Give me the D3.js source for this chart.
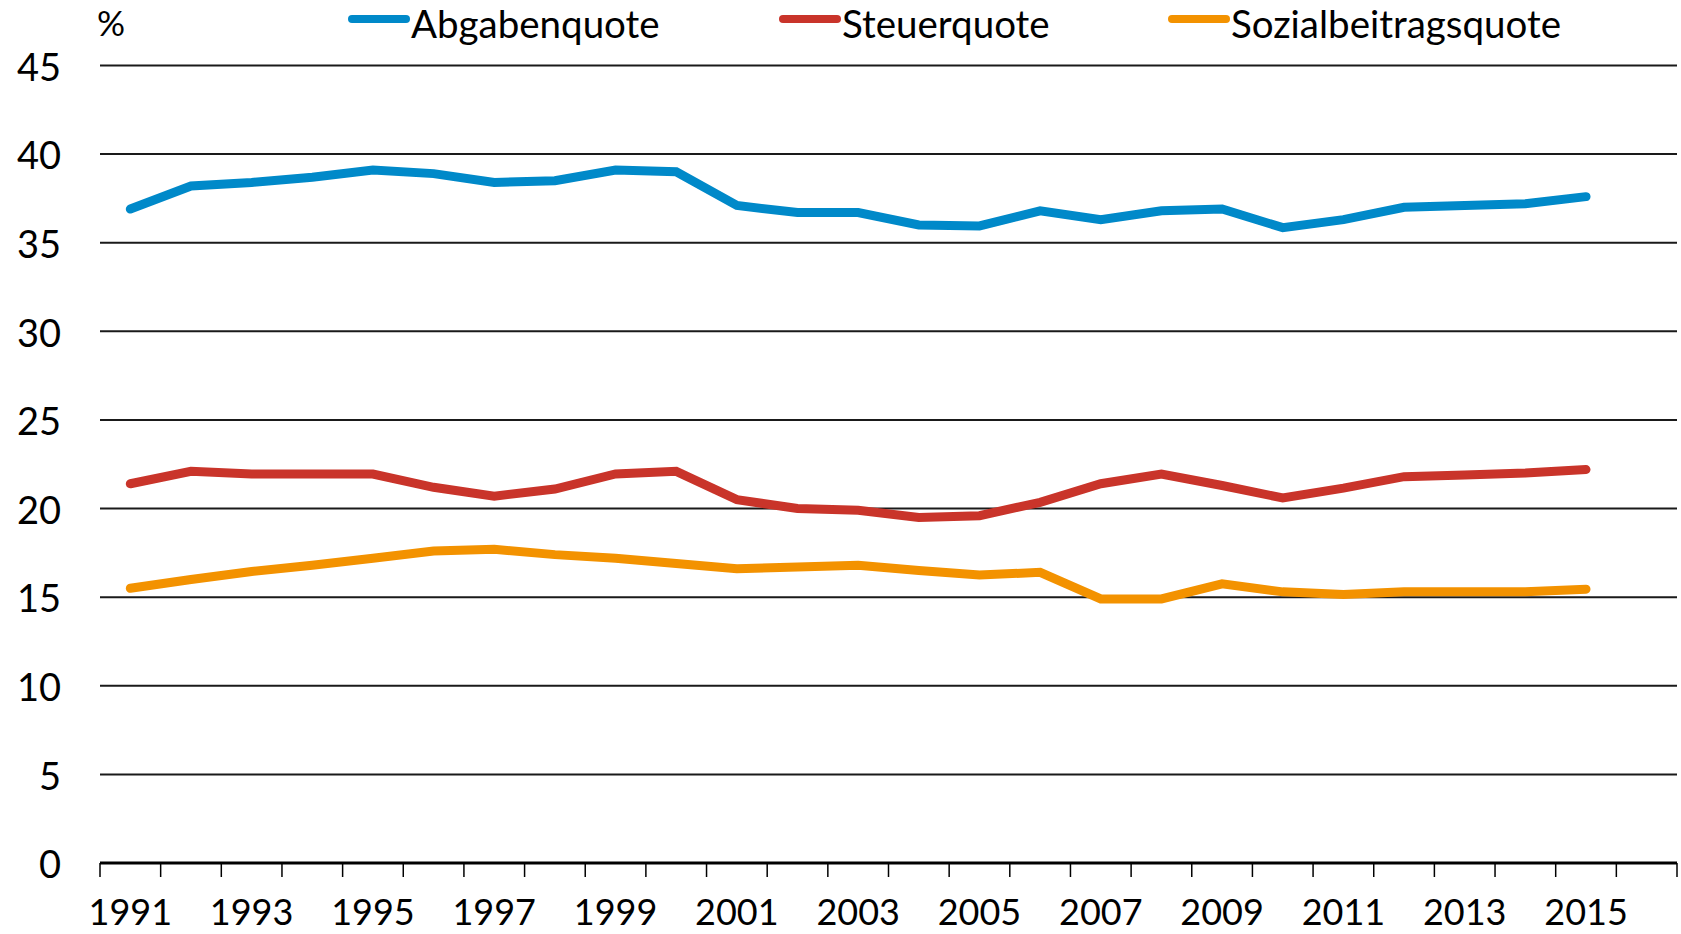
<!DOCTYPE html>
<html>
<head>
<meta charset="utf-8">
<script src="https://cdn.jsdelivr.net/npm/d3@7"></script>
<style>
  body { margin: 0; background: #fff; }
  text { font-family: Lato, "Liberation Sans", sans-serif; fill: #000; }
</style>
</head>
<body>
<div id="chart"></div>
<script>
const years = [1991, 1992, 1993, 1994, 1995, 1996, 1997, 1998, 1999, 2000, 2001, 2002, 2003,
               2004, 2005, 2006, 2007, 2008, 2009, 2010, 2011, 2012, 2013, 2014, 2015];
// one empty slot after 2015 on the axis
const axisYears = years.concat([2016]);
const yearLabels = [1991, 1993, 1995, 1997, 1999, 2001, 2003, 2005, 2007, 2009, 2011, 2013, 2015];

const abgabenquote = [36.9, 38.2, 38.4, 38.7, 39.1, 38.9, 38.4, 38.5, 39.1, 39.0, 37.1, 36.7, 36.7,
                      36.0, 35.95, 36.8, 36.3, 36.8, 36.9, 35.85, 36.3, 37.0, 37.1, 37.2, 37.6];
const steuerquote = [21.4, 22.1, 21.95, 21.95, 21.95, 21.2, 20.7, 21.1, 21.95, 22.1, 20.5, 20.0, 19.9,
                     19.5, 19.6, 20.35, 21.4, 21.95, 21.3, 20.6, 21.15, 21.8, 21.9, 22.0, 22.2];
const sozialbeitragsquote = [15.5, 16.0, 16.45, 16.8, 17.2, 17.6, 17.7, 17.4, 17.2, 16.9, 16.6, 16.7, 16.8,
                             16.5, 16.25, 16.4, 14.9, 14.9, 15.75, 15.3, 15.15, 15.3, 15.3, 15.3, 15.45];
const yTicks = [0, 5, 10, 15, 20, 25, 30, 35, 40, 45];

const series = [
  {name: "Abgabenquote", values: abgabenquote, color: "#0089c9"},
  {name: "Steuerquote", values: steuerquote, color: "#c9342a"},
  {name: "Sozialbeitragsquote", values: sozialbeitragsquote, color: "#f39200"}
];

const width = 1681, height = 934;
const plotLeft = 100, plotRight = 1677, plotTop = 65.5, plotBottom = 863;

const svg = d3.select("#chart").append("svg")
  .attr("width", width)
  .attr("height", height);

const x = d3.scaleBand()
  .domain(axisYears)
  .range([plotLeft, plotRight]);

const y = d3.scaleLinear()
  .domain([0, 45])
  .range([plotBottom, plotTop]);

// gridlines
svg.append("g")
  .selectAll("line")
  .data(yTicks.filter(d => d > 0))
  .enter()
  .append("line")
  .attr("x1", plotLeft)
  .attr("x2", plotRight)
  .attr("y1", d => y(d))
  .attr("y2", d => y(d))
  .attr("stroke", "#1a1a1a")
  .attr("stroke-width", 2);

// y labels
svg.append("g")
  .selectAll("text")
  .data(yTicks)
  .enter()
  .append("text")
  .attr("x", 61)
  .attr("y", d => y(d))
  .attr("dy", "0.4em")
  .attr("text-anchor", "end")
  .attr("font-size", 38)
  .text(d => d);

// x axis line and tick marks at the band edges
svg.append("line")
  .attr("x1", plotLeft)
  .attr("x2", plotRight)
  .attr("y1", y(0))
  .attr("y2", y(0))
  .attr("stroke", "#000")
  .attr("stroke-width", 3);

svg.append("g")
  .selectAll("line")
  .data(axisYears.map(d => x(d)).concat([x.range()[1]]))
  .enter()
  .append("line")
  .attr("x1", d => d)
  .attr("x2", d => d)
  .attr("y1", y(0))
  .attr("y2", y(0) + 14)
  .attr("stroke", "#000")
  .attr("stroke-width", 1.5);

svg.append("g")
  .selectAll("text")
  .data(yearLabels)
  .enter()
  .append("text")
  .attr("x", d => x(d) + x.bandwidth() / 2)
  .attr("y", 925)
  .attr("text-anchor", "middle")
  .attr("font-size", 36)
  .text(d => d);

// lines
const line = d3.line()
  .x((d, i) => x(years[i]) + x.bandwidth() / 2)
  .y(d => y(d));

svg.append("g")
  .selectAll("path")
  .data(series)
  .enter()
  .append("path")
  .attr("d", d => line(d.values))
  .attr("fill", "none")
  .attr("stroke", d => d.color)
  .attr("stroke-width", 9)
  .attr("stroke-linecap", "round")
  .attr("stroke-linejoin", "miter");

// unit label
svg.append("text")
  .attr("x", 97)
  .attr("y", 36)
  .attr("font-size", 35)
  .text("%");

// legend
const legendX = [352, 783, 1172];
const legend = svg.append("g")
  .selectAll("g")
  .data(series)
  .enter()
  .append("g")
  .attr("transform", (d, i) => "translate(" + legendX[i] + ",0)");

legend.append("line")
  .attr("x1", 0)
  .attr("x2", 54)
  .attr("y1", 19)
  .attr("y2", 19)
  .attr("stroke", d => d.color)
  .attr("stroke-width", 8)
  .attr("stroke-linecap", "round");

legend.append("text")
  .attr("x", 59)
  .attr("y", 38)
  .attr("font-size", 38.5)
  .text(d => d.name);
</script>
</body>
</html>
